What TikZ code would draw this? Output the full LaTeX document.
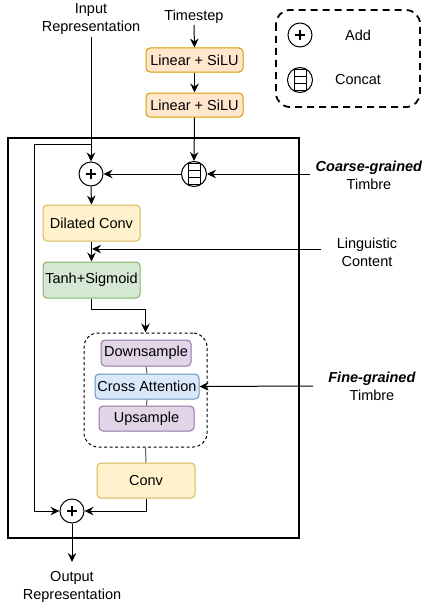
\documentclass[tikz,border=0pt]{standalone}
\usepackage{fontspec}
\setmainfont{Liberation Sans}
\usetikzlibrary{arrows.meta,calc}
\definecolor{orfill}{HTML}{FFE6CC}\definecolor{ordraw}{HTML}{D79B00}
\definecolor{yefill}{HTML}{FFF2CC}\definecolor{yedraw}{HTML}{D6B656}
\definecolor{grfill}{HTML}{D5E8D4}\definecolor{grdraw}{HTML}{82B366}
\definecolor{pufill}{HTML}{E1D5E7}\definecolor{pudraw}{HTML}{9673A6}
\definecolor{blfill}{HTML}{DAE8FC}\definecolor{bldraw}{HTML}{6C8EBF}
\begin{document}
\begin{tikzpicture}[x=1pt,y=-1pt,
  every node/.style={font=\fontsize{14.5}{18}\selectfont, inner sep=1pt},
  lbl/.style={align=center},
  blk/.style={draw, rounded corners=4pt, line width=1pt, inner sep=0pt},
  orangebox/.style={blk, fill=orfill, draw=ordraw},
  yellowbox/.style={blk, fill=yefill, draw=yedraw},
  greenbox/.style={blk, fill=grfill, draw=grdraw},
  purplebox/.style={blk, fill=pufill, draw=pudraw},
  bluebox/.style={blk, fill=blfill, draw=bldraw},
  arr/.style={-{Stealth[length=9pt,width=8.5pt,inset=3pt]}, line width=1pt},
  ln/.style={line width=1pt},
  gln/.style={line width=1pt, draw=black!65},
  addop/.style={circle, draw, line width=1pt, minimum size=24pt, inner sep=0pt,
    path picture={\draw[line width=1.1pt] (path picture bounding box.center) +(-5,0) -- +(5,0)
      (path picture bounding box.center) +(0,-5) -- +(0,5);}},
  catop/.style={circle, draw, line width=1pt, minimum size=25pt, inner sep=0pt},
  catbar/.style={draw, line width=0.9pt},
]
\useasboundingbox (0,0) rectangle (425,610);

% frames
\draw[line width=2pt] (8,138) rectangle (299,538);
\draw[line width=1.8pt, dash pattern=on 7pt off 5pt, rounded corners=14pt] (276,10) rectangle (420,107);

% legend
\node[addop] (legadd) at (300,35) {};
\node (legaddt) at (358,35) {Add};
\node[catop] (legcat) at (300,80) {};
\node (legcatt) at (358,80) {Concat};

% top labels
\node[lbl] (inp) at (91,19) {Input\\Representation};
\node (ts) at (194,17) {Timestep};
\node[orangebox, minimum width=97pt, minimum height=24pt] (lin1) at (194.5,60) {Linear + SiLU};
\node[orangebox, minimum width=97pt, minimum height=24pt] (lin2) at (194.5,105) {Linear + SiLU};

% operators
\node[addop] (plus1) at (91,174) {};
\node[catop] (cat) at (194,174) {};
\node[addop] (plus2) at (72,511) {};
\foreach \c in {cat,legcat}{
  \foreach \k in {0,1,2}{
    \draw[catbar] ($(\c.center)+(-6,-10.5+7*\k)$) rectangle ($(\c.center)+(6,-3.5+7*\k)$);
  }
}

% blocks
\node[yellowbox, minimum width=97pt, minimum height=36pt] (dil) at (91.5,223) {Dilated Conv};
\node[greenbox, minimum width=97pt, minimum height=36pt] (tanh) at (91.5,280) {Tanh+Sigmoid};
\node[draw, line width=1pt, dash pattern=on 3pt off 2.5pt, rounded corners=14pt, minimum width=123pt, minimum height=114pt] (grp) at (145.5,390) {};
\node[purplebox, minimum width=90pt, minimum height=26pt] (down) at (146,353) {Downsample};
\node[bluebox, minimum width=104pt, minimum height=25pt] (cross) at (147,386.5) {Cross Attention};
\node[purplebox, minimum width=95pt, minimum height=25pt] (up) at (146.5,418.5) {Upsample};
\node[yellowbox, minimum width=98pt, minimum height=35pt] (conv) at (146,480.5) {Conv};

% right labels
\node[lbl] (coarse) at (369,175) {\textbf{\textit{Coarse-grained}}\\Timbre};
\node[lbl] (ling) at (367,252) {Linguistic\\Content};
\node[lbl] (fine) at (372,386) {\textbf{\textit{Fine-grained}}\\Timbre};
\node[lbl] (outp) at (72,587) {Output\\Representation};

% coordinates
\coordinate (inptop) at (91,37);
\coordinate (skip) at (91,144);
\coordinate (cgs) at (310,174);
\coordinate (lcs) at (321,249);
\coordinate (lce) at (92,249);
\coordinate (fgs) at (313,386);
\coordinate (oute) at (72,562);

% connectors
\draw[arr] (inptop) -- (plus1.north);
\draw[ln] (skip) -- (34,144) -- (34,511);
\draw[arr] (34,511) -- (plus2.west);
\draw[arr] (ts.south) -- (lin1.north);
\draw[arr] (lin1.south) -- (lin2.north);
\draw[arr] (lin2.south) -- (cat.north);
\draw[arr] (cgs) -- (cat.east);
\draw[arr] (cat.west) -- (plus1.east);
\draw[arr] (plus1.south) -- (dil.north);
\draw[arr] (dil.south) -- (tanh.north);
\draw[arr] (lcs) -- (lce);
\draw[arr] (tanh.south) -- ++(0,11) -| (grp.north);
\draw[gln] (down.south) -- (cross.north);
\draw[gln] (cross.south) -- (up.north);
\draw[arr] (fgs) -- (cross.east);
\draw[gln] (grp.south) -- (conv.north);
\draw[arr] (conv.south) |- (plus2.east);
\draw[arr] (plus2.south) -- (oute);
\end{tikzpicture}
\end{document}
